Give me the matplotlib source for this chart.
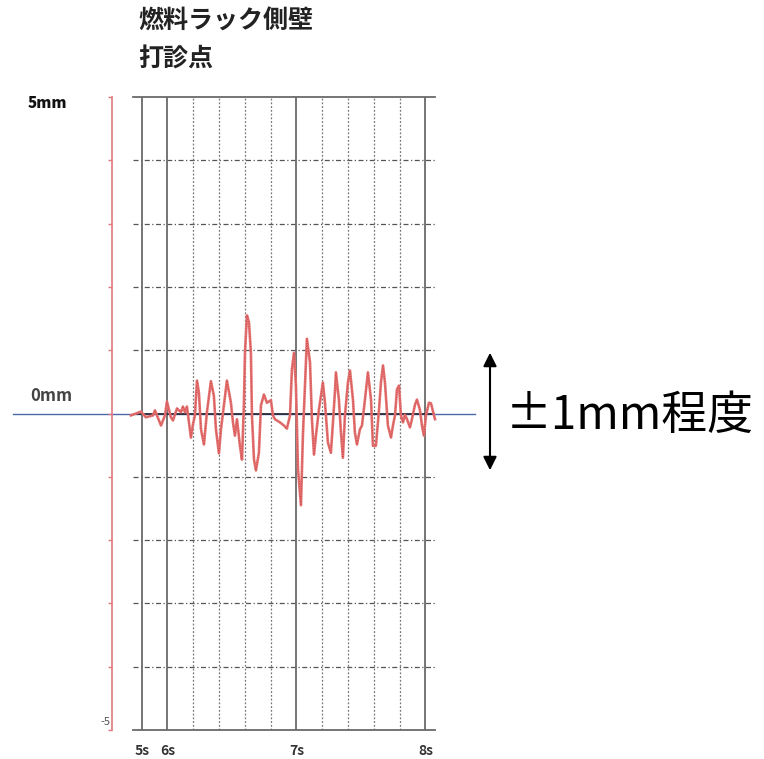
import matplotlib
matplotlib.use("Agg")
import matplotlib.pyplot as plt
import matplotlib.transforms as mtransforms
import numpy as np

plt.rcParams["font.family"] = ["Noto Sans CJK JP", "DejaVu Sans"]

# data (time in s, displacement in mm)
time_s = [
    5.717, 5.795, 5.833, 5.888, 5.903, 5.950, 5.981, 5.996, 6.027, 6.043,
    6.074, 6.105, 6.120, 6.136, 6.151, 6.182, 6.198, 6.213, 6.229, 6.244,
    6.260, 6.283, 6.306, 6.337, 6.360, 6.376, 6.399, 6.415, 6.461, 6.492,
    6.508, 6.523, 6.539, 6.562, 6.578, 6.593, 6.601, 6.616, 6.632, 6.647,
    6.655, 6.671, 6.686, 6.709, 6.725, 6.748, 6.771, 6.802, 6.818, 6.833,
    6.872, 6.903, 6.926, 6.950, 6.965, 6.981, 6.996, 7.012, 7.035, 7.050,
    7.066, 7.081, 7.105, 7.120, 7.136, 7.151, 7.174, 7.190, 7.205, 7.221,
    7.244, 7.267, 7.283, 7.298, 7.306, 7.329, 7.345, 7.360, 7.376, 7.399,
    7.415, 7.438, 7.453, 7.469, 7.492, 7.508, 7.531, 7.554, 7.578, 7.593,
    7.616, 7.640, 7.655, 7.671, 7.686, 7.709, 7.733, 7.748, 7.764, 7.779,
    7.795, 7.810, 7.826, 7.841, 7.857, 7.880, 7.895, 7.919, 7.934, 7.957,
    7.973, 7.988, 8.004, 8.027, 8.043, 8.066, 8.074,
]
disp_mm = [
    -0.03, 0.03, -0.06, -0.03, 0.05, -0.19, -0.03, 0.19, -0.06, -0.11,
    0.08, 0.02, 0.11, 0.02, 0.11, -0.38, -0.17, -0.03, 0.52, 0.33,
    -0.25, -0.49, 0.02, 0.51, 0.28, -0.25, -0.63, -0.25, 0.52, 0.17,
    -0.14, -0.35, -0.09, -0.51, -0.73, 0.17, 0.96, 1.55, 1.44, 0.96,
    -0.03, -0.73, -0.90, -0.62, 0.13, 0.30, 0.17, 0.21, -0.03, -0.09,
    -0.14, -0.19, -0.24, -0.03, 0.70, 0.96, 0.44, -0.88, -1.45, -0.35,
    0.44, 1.18, 0.81, -0.09, -0.65, -0.35, 0.06, 0.28, 0.49, 0.17,
    -0.46, -0.62, -0.14, 0.33, 0.65, 0.22, -0.30, -0.70, -0.03, 0.49,
    0.68, 0.22, -0.30, -0.49, -0.25, -0.19, 0.22, 0.65, 0.22, -0.51,
    -0.51, 0.06, 0.49, 0.76, 0.49, -0.19, -0.38, -0.19, -0.03, 0.38,
    0.44, -0.03, -0.14, -0.02, -0.09, -0.22, -0.09, 0.14, 0.22, 0.06,
    -0.19, -0.35, -0.03, 0.17, 0.16, -0.03, -0.09,
]

major_ticks = [5.80, 6.0, 7.0, 8.0]
major_labels = ["5s", "6s", "7s", "8s"]
minor_ticks = [6.2, 6.4, 6.6, 6.8, 7.2, 7.4, 7.6, 7.8]
mm_ticks = list(range(-5, 6))

W, H = 764, 759
fig = plt.figure(figsize=(W / 100, H / 100), dpi=100)
ax = fig.add_axes([133 / W, 1 - 730 / H, 302 / W, 633 / H])
ax.set_xlim(5.733, 8.074)
ax.set_ylim(-5, 5)

# grid
for y in mm_ticks:
    if y in (-5, 0, 5):
        continue
    ax.axhline(y, color="#555555", lw=0.9, ls=(0, (4, 2, 1, 2)), zorder=1)
for x in minor_ticks:
    ax.axvline(x, color="#777777", lw=0.9, ls=(0, (1.5, 1.5)), zorder=1)
for x in major_ticks:
    ax.axvline(x, color="#6a6a6a", lw=1.3, zorder=1)

# zero line: blue one across the page, dark one inside the frame
blend = mtransforms.blended_transform_factory(fig.transFigure, ax.transData)
ax.plot([13 / W, 475 / W], [0, 0], color="#4a68a8", lw=1.0,
        transform=blend, clip_on=False, zorder=0.5)
ax.axhline(0, color="#2a2a3a", lw=1.3, zorder=2)

# signal
ax.plot(time_s, disp_mm, color="#e37372", lw=1.9, clip_on=False, zorder=3,
        solid_joinstyle="round")
ax.plot(time_s, disp_mm, color="#c83a3a", lw=0.6, clip_on=False, zorder=3,
        ls=(0, (1, 2)))

# frame
for side in ("top", "bottom"):
    ax.spines[side].set_color("#6a6a6a")
    ax.spines[side].set_linewidth(1.3)
ax.spines["right"].set_visible(False)
ax.spines["left"].set_position(("outward", 15))
ax.spines["left"].set_color("#e07a80")
ax.spines["left"].set_linewidth(1.2)

ax.set_yticks(mm_ticks)
ax.set_yticklabels([])
ax.tick_params(axis="y", colors="#e07a80", length=3, width=1)
ax.set_xticks(major_ticks)
ax.set_xticklabels(major_labels)
ax.tick_params(axis="x", length=0, pad=10, labelsize=10, labelcolor="#333333")
for lbl in ax.get_xticklabels():
    lbl.set_fontweight("bold")

# texts
fig.text(138 / W, 1 - 22 / H, "燃料ラック側壁", fontsize=18, fontweight="bold",
         color="#222222", va="center", ha="left")
fig.text(138 / W, 1 - 60 / H, "打診点", fontsize=18, fontweight="bold",
         color="#222222", va="center", ha="left")
fig.text(28 / W, 1 - 103 / H, "5mm", fontsize=11, fontweight="heavy",
         color="#111111", va="center", ha="left")
fig.text(30 / W, 1 - 396 / H, "0mm", fontsize=12, fontweight="bold",
         color="#444444", va="center", ha="left")
fig.text(100 / W, 1 - 722 / H, "-5", fontsize=8, color="#555555",
         va="center", ha="left")

# ±1mm annotation
fig.patches.append(matplotlib.patches.FancyArrowPatch(
    (490 / W, 1 - 350 / H), (490 / W, 1 - 473 / H),
    transform=fig.transFigure, arrowstyle="<|-|>", mutation_scale=20,
    color="black", lw=1.5))
fig.text(506 / W, 1 - 416 / H, "±1mm程度", fontsize=33, color="black",
         va="center", ha="left")

fig.savefig("out.png", dpi=100)
